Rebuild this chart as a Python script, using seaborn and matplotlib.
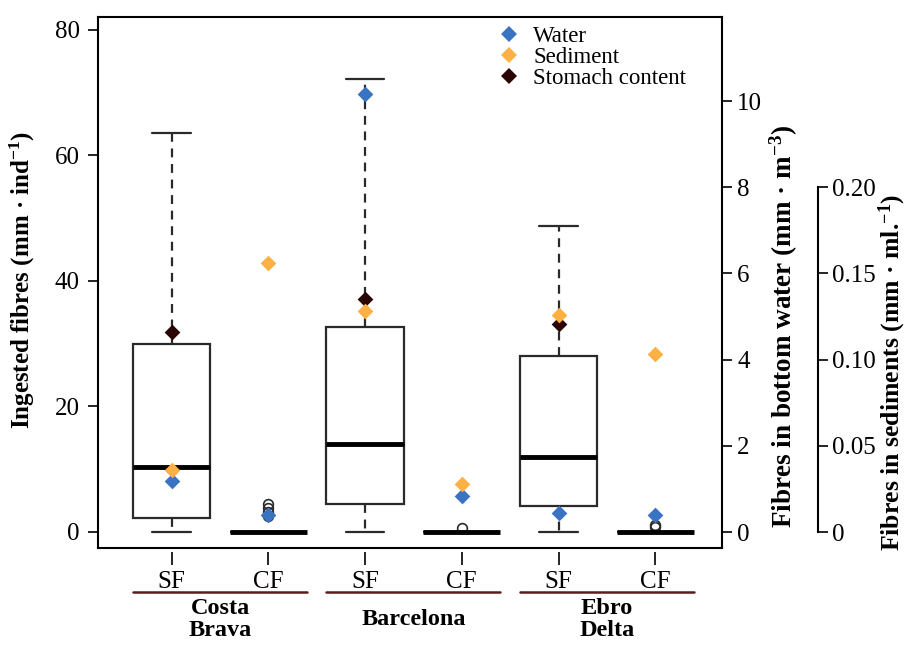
import numpy as np
import pandas as pd
import seaborn as sns
import matplotlib.pyplot as plt
import matplotlib.transforms as mtransforms
from matplotlib.lines import Line2D

# ---------------- data ----------------
sites = ["Costa\nBrava", "Barcelona", "Ebro\nDelta"]
fisheries = ["SF", "CF"]
group_order = ["CB-SF", "CB-CF", "BA-SF", "BA-CF", "ED-SF", "ED-CF"]

# ingested fibres per individual (mm / ind)
cb_sf = [0.0, 2.3, 10.3, 30.0, 63.6]
cb_cf = [0.0, 0.0, 0.0, 0.0, 0.0, 0.0, 0.0, 0.0, 0.0, 0.0,
         0.0, 0.0, 0.0, 0.0, 0.0, 0.0, 2.5, 3.2, 3.9, 4.5]
ba_sf = [0.0, 4.4, 14.1, 32.6, 72.2]
ba_cf = [0.0, 0.0, 0.0, 0.0, 0.0, 0.0, 0.0, 0.0, 0.0, 0.0,
         0.0, 0.0, 0.0, 0.0, 0.0, 0.0, 0.7]
ed_sf = [0.0, 4.1, 12.0, 28.0, 48.7]
ed_cf = [0.0, 0.0, 0.0, 0.0, 0.0, 0.0, 0.0, 0.0, 0.0, 0.0,
         0.0, 0.0, 0.0, 0.0, 0.0, 0.0, 0.8, 1.1]

water_mean = [1.18, 0.39, 10.16, 0.84, 0.45, 0.39]        # mm / m3
sediment_mean = [0.036, 0.156, 0.128, 0.028, 0.126, 0.103]  # mm / ml
stomach_mean = [31.8, np.nan, 37.1, np.nan, 33.1, np.nan]   # mm / ind

series = [cb_sf, cb_cf, ba_sf, ba_cf, ed_sf, ed_cf]
df = pd.DataFrame({
    "group": np.concatenate([[g] * len(v) for g, v in zip(group_order, series)]),
    "value": np.concatenate(series),
})
pos = np.arange(len(group_order))

# ---------------- style ----------------
sns.set_theme(style="white")
plt.rcParams["font.family"] = ["Liberation Serif", "DejaVu Serif"]
plt.rcParams["mathtext.fontset"] = "custom"
plt.rcParams["mathtext.rm"] = "Liberation Serif"
plt.rcParams["mathtext.bf"] = "Liberation Serif:bold"
plt.rcParams["mathtext.default"] = "regular"
for k in ["text.color", "axes.labelcolor", "xtick.color", "ytick.color",
          "axes.edgecolor"]:
    plt.rcParams[k] = "black"

C_WATER = "#3a73c1"
C_SED = "#fdb044"
C_STOM = "#2b0404"
EDGE = "#2a2a2a"

W, H = 907, 645
fig = plt.figure(figsize=(W / 100, H / 100), dpi=100)
L, R, T, B = 98, 722, 17, 548
ax = fig.add_axes([L / W, 1 - B / H, (R - L) / W, (B - T) / H])

sns.boxplot(data=df, x="group", y="value", order=group_order, ax=ax,
            color="white", linecolor=EDGE, linewidth=1.6, width=0.8, whis=1.5,
            whiskerprops={"linestyle": (0, (4, 3))},
            medianprops={"linewidth": 3.5, "color": "black"},
            flierprops={"marker": "o", "markerfacecolor": "none",
                        "markeredgecolor": EDGE, "markersize": 7,
                        "markeredgewidth": 1.2})

ax.set_ylim(-2.55, 82.07)
ax.set_yticks([0, 20, 40, 60, 80])
ax.set_xlabel("")
ax.set_ylabel("")
ax.tick_params(axis="y", left=True, direction="out", length=7, width=1.2,
               labelsize=18, pad=6, colors="black")
ax.tick_params(axis="x", bottom=False, labelbottom=False)
for s in ax.spines.values():
    s.set_visible(True)
    s.set_color("black")
    s.set_linewidth(1.5)

# water axis
axw = ax.twinx()
axw.set_ylim(-0.371, 11.95)
axw.set_yticks([0, 2, 4, 6, 8, 10])
axw.tick_params(axis="y", right=True, direction="out", length=7, width=1.2,
                labelsize=18, pad=4, colors="black")
for k in ["left", "top", "bottom", "right"]:
    axw.spines[k].set_visible(False)

# sediment axis
axs = ax.twinx()
axs.set_ylim(-0.371 * 0.025, 11.95 * 0.025)
axs.spines["right"].set_position(("axes", (818 - L) / (R - L)))
axs.spines["right"].set_bounds(0, 0.20)
axs.spines["right"].set_linewidth(1.5)
axs.spines["right"].set_color("black")
for k in ["left", "top", "bottom"]:
    axs.spines[k].set_visible(False)
axs.set_yticks([0, 0.05, 0.10, 0.15, 0.20])
axs.set_yticklabels(["0", "0.05", "0.10", "0.15", "0.20"])
axs.tick_params(axis="y", right=True, direction="out", length=7, width=1.2,
                labelsize=18, pad=3, colors="black")

# mean markers
sns.scatterplot(x=pos, y=stomach_mean, ax=ax, marker="D", s=64,
                color=C_STOM, linewidth=0, zorder=5)
sns.scatterplot(x=pos, y=water_mean, ax=axw, marker="D", s=64,
                color=C_WATER, linewidth=0, zorder=5)
sns.scatterplot(x=pos, y=sediment_mean, ax=axs, marker="D", s=64,
                color=C_SED, linewidth=0, zorder=5)

xl = ((L - 171.7) / 96.7, (R - 171.7) / 96.7)
for a in (ax, axw, axs):
    a.set_xlim(*xl)

# x ticks (offset below the frame)
sec = ax.secondary_xaxis(-(552 - B) / (B - T))
sec.set_xticks(pos)
sec.set_xticklabels(fisheries * len(sites))
sec.spines["bottom"].set_visible(False)
sec.tick_params(axis="x", length=9, width=1.2, labelsize=18, pad=5,
                colors="black")

# group underline and names
blend = mtransforms.blended_transform_factory(ax.transData, ax.transAxes)
y_line = -(591.5 - B) / (B - T)
y_name = -(619.5 - B) / (B - T)
for i, site in enumerate(sites):
    p = pos[2 * i]
    ax.plot([p - 0.4, p + 1.4], [y_line, y_line], transform=blend,
            clip_on=False, color="#5a1c1c", lw=1.8)
    ax.text(p + 0.5, y_name, site, transform=blend, ha="center", va="center",
            fontsize=17.5, fontweight="bold", linespacing=1.05)

# axis labels
fig.text(22 / W, 1 - 280 / H, r"Ingested fibres (mm · ind$^{-1}$)",
         rotation=90, ha="center", va="center", fontsize=18, fontweight="bold")
fig.text(784 / W, 1 - 326 / H, r"Fibres in bottom water (mm · m$^{-3}$)",
         rotation=90, ha="center", va="center", fontsize=19.5, fontweight="bold")
fig.text(892 / W, 1 - 372 / H, r"Fibres in sediments (mm · ml.$^{-1}$)",
         rotation=90, ha="center", va="center", fontsize=18.5, fontweight="bold")

# legend
handles = [Line2D([], [], marker="D", ls="none", color=c, markersize=8,
                  markeredgewidth=0) for c in (C_WATER, C_SED, C_STOM)]
axs.legend(handles, ["Water", "Sediment", "Stomach content"],
           loc="upper left", bbox_to_anchor=(499 / W, 1 - 26 / H),
           bbox_transform=fig.transFigure, frameon=False, fontsize=16.5,
           handlelength=0.9, handletextpad=0.6, labelspacing=0.0,
           borderpad=0, borderaxespad=0)

fig.savefig("out.png", dpi=100)
